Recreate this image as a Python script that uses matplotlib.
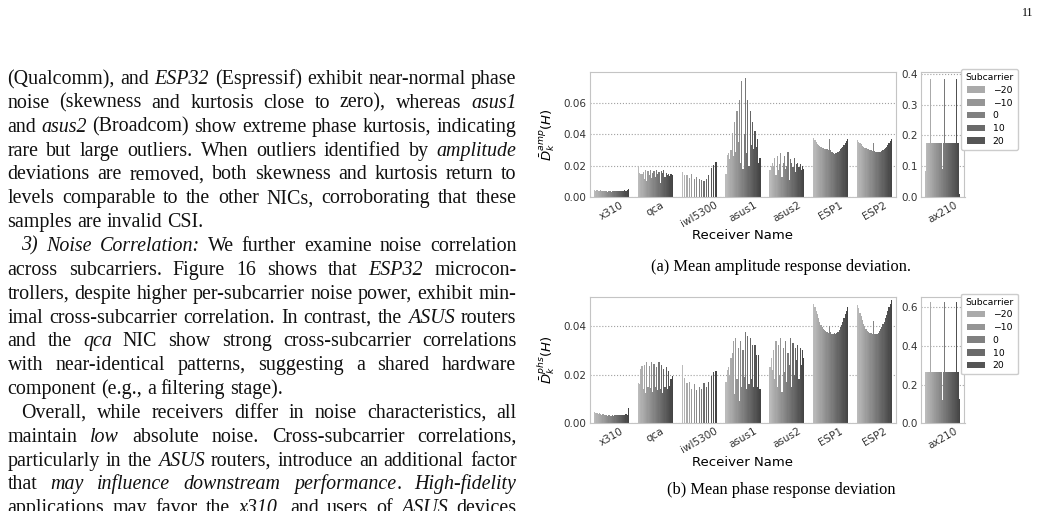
import matplotlib
matplotlib.use("Agg")
import matplotlib.pyplot as plt
from matplotlib.patches import Patch
from matplotlib.ticker import FormatStrFormatter

# ---- data -------------------------------------------------------------
receivers = ["x310", "qca", "iwl5300", "asus1", "asus2", "ESP1", "ESP2"]
subc = list(range(-28, 29, 2))
subc_iwl = list(range(-28, 29, 4))
subc_ax210 = list(range(-49, 50, 2))
legend_sub = [-20, -10, 0, 10, 20]

amp_x310 = [0.0045, 0.0040, 0.0042, 0.0038, 0.0041, 0.0043, 0.0037, 0.0040, 0.0036, 0.0039,
            0.0037, 0.0035, 0.0038, 0.0036, 0.0034, 0.0037, 0.0039, 0.0036, 0.0038, 0.0040,
            0.0037, 0.0039, 0.0041, 0.0038, 0.0040, 0.0042, 0.0039, 0.0044, 0.0049]
amp_qca = [0.0190, 0.0155, 0.0150, 0.0145, 0.0160, 0.0115, 0.0170, 0.0105, 0.0165, 0.0140,
           0.0175, 0.0120, 0.0155, 0.0165, 0.0130, 0.0175, 0.0145, 0.0160, 0.0090, 0.0165,
           0.0155, 0.0170, 0.0125, 0.0155, 0.0140, 0.0145, 0.0135, 0.0150, 0.0140]
amp_iwl5300 = [0.0158, 0.0140, 0.0142, 0.0120, 0.0148, 0.0115, 0.0130, 0.0112, 0.0108, 0.0105,
               0.0112, 0.0140, 0.0185, 0.0205, 0.0225]
amp_asus1 = [0.015, 0.027, 0.028, 0.024, 0.030, 0.041, 0.026, 0.048, 0.029, 0.055,
             0.035, 0.062, 0.022, 0.074, 0.018, 0.040, 0.076, 0.028, 0.062, 0.020,
             0.055, 0.033, 0.048, 0.031, 0.042, 0.032, 0.037, 0.022, 0.025]
amp_asus2 = [0.017, 0.020, 0.022, 0.020, 0.025, 0.014, 0.026, 0.017, 0.021, 0.028,
             0.013, 0.022, 0.026, 0.018, 0.020, 0.029, 0.011, 0.024, 0.022, 0.019,
             0.025, 0.016, 0.021, 0.022, 0.019, 0.021, 0.017, 0.020, 0.018]
amp_esp1 = [0.0375, 0.0362, 0.0352, 0.0342, 0.0334, 0.0327, 0.0321, 0.0316, 0.0312, 0.0309,
            0.0306, 0.0304, 0.0302, 0.0370, 0.0300, 0.0290, 0.0282, 0.0278, 0.0280, 0.0284,
            0.0290, 0.0296, 0.0304, 0.0312, 0.0322, 0.0334, 0.0346, 0.0358, 0.0372]
amp_esp2 = [0.0365, 0.0355, 0.0345, 0.0336, 0.0328, 0.0322, 0.0316, 0.0312, 0.0308, 0.0304,
            0.0300, 0.0298, 0.0296, 0.0345, 0.0292, 0.0288, 0.0286, 0.0286, 0.0288, 0.0290,
            0.0294, 0.0298, 0.0304, 0.0312, 0.0322, 0.0333, 0.0345, 0.0356, 0.0372]
amp_ax210 = [0.085, 0.176, 0.176, 0.176, 0.176, 0.176, 0.176, 0.383, 0.176, 0.176,
             0.176, 0.176, 0.176, 0.176, 0.176, 0.176, 0.176, 0.176, 0.176, 0.383,
             0.176, 0.176, 0.176, 0.176, 0.092, 0.088, 0.176, 0.383, 0.176, 0.176,
             0.176, 0.176, 0.176, 0.176, 0.176, 0.176, 0.176, 0.176, 0.176, 0.176,
             0.176, 0.176, 0.176, 0.176, 0.383, 0.176, 0.176, 0.176, 0.176, 0.010]

phs_x310 = [0.0045, 0.0044, 0.0042, 0.0040, 0.0041, 0.0038, 0.0036, 0.0037, 0.0034, 0.0035,
            0.0033, 0.0032, 0.0034, 0.0031, 0.0030, 0.0033, 0.0032, 0.0034, 0.0033, 0.0035,
            0.0034, 0.0033, 0.0035, 0.0034, 0.0036, 0.0035, 0.0037, 0.0036, 0.0062]
phs_qca = [0.0165, 0.0160, 0.0225, 0.0235, 0.0140, 0.0240, 0.0125, 0.0250, 0.0150, 0.0235,
           0.0145, 0.0250, 0.0130, 0.0245, 0.0150, 0.0230, 0.0135, 0.0250, 0.0140, 0.0240,
           0.0125, 0.0225, 0.0150, 0.0230, 0.0140, 0.0215, 0.0155, 0.0180, 0.0195]
phs_iwl5300 = [0.0240, 0.0185, 0.0165, 0.0170, 0.0140, 0.0160, 0.0135, 0.0150, 0.0140, 0.0165,
               0.0150, 0.0170, 0.0195, 0.0210, 0.0215]
phs_asus1 = [0.0168, 0.0220, 0.0230, 0.0200, 0.0270, 0.0290, 0.0340, 0.0120, 0.0350, 0.0180,
             0.0310, 0.0090, 0.0340, 0.0150, 0.0300, 0.0190, 0.0374, 0.0140, 0.0360, 0.0160,
             0.0350, 0.0180, 0.0320, 0.0150, 0.0320, 0.0280, 0.0150, 0.0280, 0.0140]
phs_asus2 = [0.023, 0.027, 0.022, 0.030, 0.018, 0.034, 0.015, 0.032, 0.020, 0.035,
             0.013, 0.031, 0.021, 0.034, 0.017, 0.029, 0.024, 0.035, 0.015, 0.033,
             0.020, 0.031, 0.026, 0.032, 0.018, 0.031, 0.024, 0.030, 0.027]
phs_esp1 = [0.0490, 0.0478, 0.0462, 0.0448, 0.0432, 0.0418, 0.0405, 0.0395, 0.0388, 0.0382,
            0.0378, 0.0376, 0.0372, 0.0398, 0.0374, 0.0366, 0.0368, 0.0372, 0.0368, 0.0370,
            0.0376, 0.0384, 0.0394, 0.0405, 0.0418, 0.0432, 0.0448, 0.0462, 0.0478]
phs_esp2 = [0.0486, 0.0472, 0.0455, 0.0440, 0.0425, 0.0410, 0.0398, 0.0388, 0.0380, 0.0375,
            0.0372, 0.0370, 0.0368, 0.0420, 0.0366, 0.0365, 0.0368, 0.0372, 0.0378, 0.0386,
            0.0395, 0.0406, 0.0418, 0.0432, 0.0447, 0.0462, 0.0476, 0.0490, 0.0505]
phs_ax210 = [0.265, 0.265, 0.265, 0.265, 0.265, 0.265, 0.265, 0.625, 0.265, 0.265,
             0.265, 0.265, 0.265, 0.265, 0.265, 0.265, 0.265, 0.265, 0.265, 0.625,
             0.265, 0.265, 0.265, 0.265, 0.120, 0.120, 0.265, 0.625, 0.265, 0.265,
             0.265, 0.265, 0.265, 0.265, 0.265, 0.265, 0.265, 0.265, 0.265, 0.265,
             0.265, 0.265, 0.265, 0.265, 0.625, 0.265, 0.265, 0.265, 0.265, 0.125]

amp = [amp_x310, amp_qca, amp_iwl5300, amp_asus1, amp_asus2, amp_esp1, amp_esp2]
phs = [phs_x310, phs_qca, phs_iwl5300, phs_asus1, phs_asus2, phs_esp1, phs_esp2]
sub_of = [subc, subc, subc_iwl, subc, subc, subc, subc]

body = [
    ("(Qualcomm), and *ESP32* (Espressif) exhibit near-normal phase", 0, True),
    ("noise (skewness and kurtosis close to zero), whereas *asus1*", 0, True),
    ("and *asus2* (Broadcom) show extreme phase kurtosis, indicating", 0, True),
    ("rare but large outliers. When outliers identified by *amplitude*", 0, True),
    ("deviations are removed, both skewness and kurtosis return to", 0, True),
    ("levels comparable to the other NICs, corroborating that these", 0, True),
    ("samples are invalid CSI.", 0, False),
    ("*3) Noise Correlation:* We further examine noise correlation", 14, True),
    ("across subcarriers. Figure 16 shows that *ESP32* microcon-", 0, True),
    ("trollers, despite higher per-subcarrier noise power, exhibit min-", 0, True),
    ("imal cross-subcarrier correlation. In contrast, the *ASUS* routers", 0, True),
    ("and the *qca* NIC show strong cross-subcarrier correlations", 0, True),
    ("with near-identical patterns, suggesting a shared hardware", 0, True),
    ("component (e.g., a filtering stage).", 0, False),
    ("Overall, while receivers differ in noise characteristics, all", 14, True),
    ("maintain *low* absolute noise. Cross-subcarrier correlations,", 0, True),
    ("particularly in the *ASUS* routers, introduce an additional factor", 0, True),
    ("that *may influence downstream performance*. *High-fidelity*", 0, True),
    ("applications may favor the *x310*, and users of *ASUS* devices", 0, True),
]

# ---- helpers ----------------------------------------------------------
W, H = 1040, 511
fig = plt.figure(figsize=(10.4, 5.11), dpi=100)


def gray(s, levels):
    frac = (s - levels[0]) / (levels[-1] - levels[0])
    v = int(round(187 - 119 * frac))
    return "#%02x%02x%02x" % (v, v, v)


def px_axes(x0, y0, x1, y1):
    return fig.add_axes([x0 / W, 1 - y1 / H, (x1 - x0) / W, (y1 - y0) / H])


def draw_group(ax, xc, levels, sub, vals):
    w = 0.8 / len(levels)
    for s, v in zip(sub, vals):
        j = levels.index(s)
        ax.bar(xc - 0.4 + (j + 0.5) * w, v, width=w, color=gray(s, levels), linewidth=0)


def style(ax, top, ticks, fmt):
    ax.set_ylim(0, top)
    ax.set_yticks(ticks)
    ax.yaxis.set_major_formatter(FormatStrFormatter(fmt))
    ax.tick_params(length=0, pad=2, labelsize=7.5, colors="#333333")
    ax.grid(axis="y", ls=":", color="#a0a0a0", lw=0.8)
    ax.set_axisbelow(True)
    for sp in ax.spines.values():
        sp.set_color("#c4c4c4")
        sp.set_linewidth(0.8)


def chart(y0, y1, data, data_ax210, ylab, tops, ticks_main, ticks_r, fmt_r):
    ax = px_axes(589.5, y0, 896.5, y1)
    for g, vals in enumerate(data):
        draw_group(ax, g, subc, sub_of[g], vals)
    ax.set_xlim(-0.5, len(receivers) - 0.5)
    style(ax, tops[0], ticks_main, "%.2f")
    ax.set_xticks(range(len(receivers)))
    ax.set_xticklabels(receivers, rotation=30)
    ax.set_xlabel("Receiver Name", fontsize=9.5)
    ax.xaxis.set_label_coords(0.5, -0.255)
    ax.set_ylabel(ylab, fontsize=9.5)
    ax.yaxis.set_label_coords(-0.105, 0.5)

    ax2 = px_axes(921, y0, 964.5, y1)
    draw_group(ax2, 0, subc_ax210, subc_ax210, data_ax210)
    ax2.set_xlim(-0.5, 0.5)
    style(ax2, tops[1], ticks_r, fmt_r)
    ax2.set_xticks([0])
    ax2.set_xticklabels(["ax210"], rotation=30)

    handles = [Patch(facecolor=gray(s, subc)) for s in legend_sub]
    labels = [str(s).replace("-", "\u2212") for s in legend_sub]
    fig.legend(handles, labels, title="Subcarrier", loc="upper left",
               bbox_to_anchor=(961 / W, 1 - (y0 - 3) / H), borderaxespad=0,
               fontsize=6.7, title_fontsize=6.7, labelspacing=0.4, borderpad=0.45,
               edgecolor="#cccccc", framealpha=1)


chart(72, 197, amp, amp_ax210, r"$\bar{D}_k^{amp}(H)$", (0.08, 0.4065),
      [0, 0.02, 0.04, 0.06], [0, 0.1, 0.2, 0.3, 0.4], "%.1f")
chart(296.5, 423.3, phs, phs_ax210, r"$\bar{D}_k^{phs}(H)$", (0.0521, 0.656),
      [0, 0.02, 0.04], [0, 0.2, 0.4, 0.6], "%.1f")

serif = "Liberation Serif"
fig.text(781 / W, 1 - 267 / H, "(a) Mean amplitude response deviation.", family=serif,
         fontsize=11.8, ha="center", va="center")
fig.text(781 / W, 1 - 490 / H, "(b) Mean phase response deviation", family=serif,
         fontsize=11.8, ha="center", va="center")
fig.text(1028 / W, 1 - 13 / H, "11", family=serif, fontsize=8.5, ha="center", va="center")


# ---- justified body text ----------------------------------------------
def parse(line):
    words, cur, buf, italic = [], [], "", False
    for ch in line:
        if ch == "*":
            if buf:
                cur.append((buf, italic))
                buf = ""
            italic = not italic
        elif ch == " ":
            if buf:
                cur.append((buf, italic))
                buf = ""
            if cur:
                words.append(cur)
                cur = []
        else:
            buf += ch
    if buf:
        cur.append((buf, italic))
    if cur:
        words.append(cur)
    return words


renderer = fig.canvas.get_renderer()
fs = 14.4
for k, (line, indent, justify) in enumerate(body):
    y = 84 + 23.85 * k
    pieces, widths = [], []
    for word in parse(line):
        ws = []
        for txt, it in word:
            t = fig.text(0, 0, txt, family=serif, fontsize=fs, va="baseline",
                         style="italic" if it else "normal", color="#111111")
            ws.append((t, t.get_window_extent(renderer).width))
        pieces.append(ws)
        widths.append(sum(p[1] for p in ws))
    x0 = 7.5 + indent
    if justify and len(pieces) > 1:
        gap = (516.5 - x0 - sum(widths)) / (len(pieces) - 1)
    else:
        gap = 0.25 * fs * 100 / 72
    x = x0
    for ws in pieces:
        for t, pw in ws:
            t.set_position((x / W, 1 - y / H))
            x += pw
        x += gap

fig.savefig("out.png", dpi=100)
